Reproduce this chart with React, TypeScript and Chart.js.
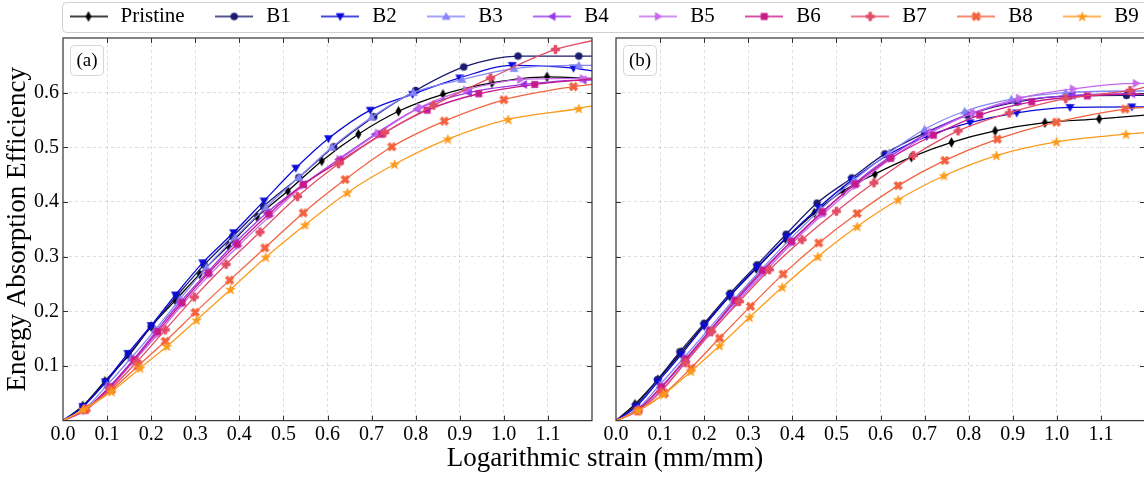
import React, { useEffect, useRef } from 'react';
import { Chart, registerables } from 'chart.js';

Chart.register(...registerables);

const FONT = 'Liberation Serif';

const SERIES_NAMES = ['Pristine', 'B1', 'B2', 'B3', 'B4', 'B5', 'B6', 'B7', 'B8', 'B9'];
const SERIES_COLORS = ['#000000', '#1b1b6f', '#0b0bd8', '#8585f7', '#9936e6', '#c668ea', '#c8198a', '#e24c64', '#f3623e', '#fc9a1c'];
const SERIES_MARKERS = ['thinDiamond', 'circle', 'triDown', 'triUp', 'triLeft', 'triRight', 'square', 'plus', 'cross', 'star'];

const X_TITLE = 'Logarithmic strain (mm/mm)';
const Y_TITLE = 'Energy Absorption Efficiency';
const PANEL_LABELS = ['(a)', '(b)'];
const X_MIN = 0, X_MAX = 1.2, X_STEP = 0.1, X_LAST_LABEL = 1.1;
const Y_MIN = 0, Y_MAX = 0.7, Y_STEP = 0.1, Y_FIRST_LABEL = 0.1, Y_LAST_LABEL = 0.6;

// ---------- Panel (a) ----------
const A_PRISTINE = [[0, 0], [0.045, 0.027], [0.095, 0.072], [0.15, 0.12], [0.2, 0.172], [0.255, 0.22], [0.31, 0.268], [0.375, 0.32], [0.44, 0.373], [0.51, 0.42], [0.587, 0.475], [0.67, 0.524], [0.761, 0.566], [0.862, 0.597], [0.973, 0.618], [1.098, 0.629], [1.2, 0.626]];
const A_B1 = [[0, 0], [0.045, 0.025], [0.097, 0.07], [0.148, 0.12], [0.2, 0.172], [0.258, 0.228], [0.32, 0.285], [0.385, 0.337], [0.455, 0.392], [0.535, 0.445], [0.614, 0.501], [0.705, 0.556], [0.8, 0.604], [0.909, 0.647], [1.032, 0.667], [1.17, 0.667], [1.2, 0.667]];
const A_B2 = [[0, 0], [0.045, 0.026], [0.096, 0.071], [0.147, 0.123], [0.2, 0.174], [0.255, 0.23], [0.317, 0.289], [0.387, 0.344], [0.456, 0.402], [0.528, 0.462], [0.602, 0.516], [0.697, 0.568], [0.793, 0.597], [0.9, 0.627], [1.019, 0.65], [1.158, 0.645], [1.2, 0.64]];
const A_B3 = [[0, 0], [0.05, 0.022], [0.1, 0.065], [0.155, 0.115], [0.21, 0.167], [0.265, 0.222], [0.325, 0.28], [0.39, 0.335], [0.46, 0.39], [0.535, 0.445], [0.61, 0.5], [0.7, 0.555], [0.795, 0.6], [0.905, 0.624], [1.023, 0.644], [1.17, 0.65], [1.2, 0.65]];
const A_B4 = [[0, 0], [0.05, 0.02], [0.103, 0.06], [0.158, 0.11], [0.21, 0.162], [0.265, 0.216], [0.326, 0.27], [0.39, 0.325], [0.462, 0.38], [0.545, 0.432], [0.625, 0.478], [0.708, 0.524], [0.803, 0.57], [0.92, 0.6], [1.045, 0.615], [1.18, 0.623], [1.2, 0.623]];
const A_B5 = [[0, 0], [0.05, 0.018], [0.105, 0.058], [0.16, 0.108], [0.215, 0.158], [0.27, 0.212], [0.333, 0.267], [0.398, 0.32], [0.47, 0.375], [0.545, 0.43], [0.628, 0.478], [0.715, 0.526], [0.81, 0.573], [0.915, 0.605], [1.038, 0.624], [1.18, 0.626], [1.2, 0.626]];
const A_B6 = [[0, 0], [0.05, 0.02], [0.107, 0.062], [0.162, 0.112], [0.215, 0.163], [0.27, 0.216], [0.33, 0.27], [0.395, 0.323], [0.467, 0.378], [0.545, 0.432], [0.629, 0.475], [0.723, 0.524], [0.826, 0.568], [0.943, 0.598], [1.07, 0.615], [1.2, 0.625]];
const A_B7 = [[0, 0], [0.05, 0.02], [0.108, 0.058], [0.168, 0.108], [0.232, 0.166], [0.298, 0.226], [0.37, 0.286], [0.447, 0.345], [0.532, 0.41], [0.625, 0.47], [0.73, 0.527], [0.841, 0.577], [0.97, 0.627], [1.117, 0.679], [1.2, 0.695]];
const A_B8 = [[0, 0], [0.053, 0.022], [0.11, 0.056], [0.17, 0.1], [0.232, 0.145], [0.3, 0.198], [0.378, 0.257], [0.458, 0.316], [0.545, 0.38], [0.64, 0.441], [0.746, 0.501], [0.865, 0.548], [1.0, 0.587], [1.158, 0.611], [1.2, 0.615]];
const A_B9 = [[0, 0], [0.046, 0.02], [0.11, 0.053], [0.175, 0.096], [0.236, 0.136], [0.303, 0.184], [0.38, 0.24], [0.46, 0.299], [0.549, 0.358], [0.645, 0.417], [0.752, 0.469], [0.873, 0.515], [1.01, 0.551], [1.17, 0.571], [1.2, 0.576]];

// ---------- Panel (b) ----------
const B_PRISTINE = [[0, 0], [0.043, 0.03], [0.095, 0.075], [0.148, 0.125], [0.2, 0.175], [0.258, 0.228], [0.318, 0.278], [0.385, 0.332], [0.45, 0.38], [0.515, 0.42], [0.587, 0.451], [0.67, 0.482], [0.761, 0.509], [0.86, 0.53], [0.973, 0.545], [1.096, 0.552], [1.2, 0.559]];
const B_B1 = [[0, 0], [0.045, 0.028], [0.094, 0.075], [0.145, 0.126], [0.2, 0.178], [0.259, 0.233], [0.32, 0.285], [0.386, 0.341], [0.456, 0.398], [0.535, 0.444], [0.61, 0.488], [0.7, 0.526], [0.797, 0.559], [0.91, 0.583], [1.03, 0.594], [1.158, 0.595], [1.2, 0.595]];
const B_B2 = [[0, 0], [0.045, 0.025], [0.095, 0.071], [0.148, 0.121], [0.2, 0.173], [0.258, 0.228], [0.32, 0.281], [0.388, 0.336], [0.46, 0.39], [0.535, 0.44], [0.615, 0.485], [0.705, 0.52], [0.803, 0.545], [0.909, 0.563], [1.03, 0.573], [1.17, 0.574], [1.2, 0.574]];
const B_B3 = [[0, 0], [0.05, 0.022], [0.1, 0.066], [0.155, 0.116], [0.21, 0.167], [0.268, 0.222], [0.33, 0.277], [0.395, 0.332], [0.465, 0.387], [0.54, 0.44], [0.62, 0.49], [0.7, 0.533], [0.791, 0.566], [0.897, 0.588], [1.02, 0.6], [1.17, 0.603], [1.2, 0.603]];
const B_B4 = [[0, 0], [0.05, 0.02], [0.102, 0.06], [0.157, 0.11], [0.212, 0.162], [0.27, 0.217], [0.332, 0.272], [0.397, 0.327], [0.467, 0.38], [0.54, 0.433], [0.62, 0.482], [0.708, 0.527], [0.805, 0.562], [0.912, 0.585], [1.035, 0.595], [1.17, 0.598], [1.2, 0.598]];
const B_B5 = [[0, 0], [0.05, 0.018], [0.105, 0.058], [0.16, 0.108], [0.215, 0.16], [0.272, 0.214], [0.335, 0.27], [0.4, 0.325], [0.47, 0.378], [0.545, 0.43], [0.625, 0.48], [0.715, 0.527], [0.81, 0.563], [0.915, 0.59], [1.037, 0.607], [1.18, 0.617], [1.2, 0.617]];
const B_B6 = [[0, 0], [0.05, 0.02], [0.103, 0.062], [0.158, 0.113], [0.213, 0.165], [0.27, 0.22], [0.333, 0.275], [0.398, 0.328], [0.468, 0.382], [0.543, 0.433], [0.623, 0.48], [0.72, 0.522], [0.825, 0.559], [0.943, 0.583], [1.069, 0.594], [1.2, 0.598]];
const B_B7 = [[0, 0], [0.05, 0.018], [0.102, 0.053], [0.157, 0.106], [0.217, 0.163], [0.28, 0.218], [0.348, 0.276], [0.422, 0.331], [0.5, 0.383], [0.585, 0.435], [0.675, 0.485], [0.776, 0.53], [0.892, 0.563], [1.02, 0.589], [1.166, 0.604], [1.2, 0.61]];
const B_B8 = [[0, 0], [0.05, 0.018], [0.11, 0.05], [0.17, 0.096], [0.235, 0.151], [0.305, 0.209], [0.379, 0.268], [0.46, 0.325], [0.547, 0.379], [0.64, 0.43], [0.746, 0.476], [0.865, 0.515], [0.999, 0.546], [1.155, 0.57], [1.2, 0.573]];
const B_B9 = [[0, 0], [0.05, 0.018], [0.108, 0.048], [0.17, 0.09], [0.235, 0.137], [0.303, 0.189], [0.377, 0.244], [0.458, 0.3], [0.547, 0.355], [0.64, 0.404], [0.744, 0.448], [0.863, 0.485], [0.999, 0.51], [1.157, 0.524], [1.2, 0.527]];

const PANEL_A = [A_PRISTINE, A_B1, A_B2, A_B3, A_B4, A_B5, A_B6, A_B7, A_B8, A_B9];
const PANEL_B = [B_PRISTINE, B_B1, B_B2, B_B3, B_B4, B_B5, B_B6, B_B7, B_B8, B_B9];

// ---------- marker drawing ----------
function drawShape(ctx: CanvasRenderingContext2D, shape: string, cx: number, cy: number, color: string) {
  ctx.save();
  ctx.fillStyle = color;
  ctx.strokeStyle = color;
  ctx.lineWidth = 0.6;
  ctx.lineJoin = 'miter';
  ctx.beginPath();
  const poly = (pts: number[][]) => {
    pts.forEach(([x, y], i) => (i === 0 ? ctx.moveTo(cx + x, cy + y) : ctx.lineTo(cx + x, cy + y)));
    ctx.closePath();
  };
  const rot = (pts: number[][], deg: number) => {
    const r = (deg * Math.PI) / 180;
    return pts.map(([x, y]) => [x * Math.cos(r) - y * Math.sin(r), x * Math.sin(r) + y * Math.cos(r)]);
  };
  const t = 4;
  const plusPts = (a: number, b: number) => [[-b, -a], [b, -a], [b, -b], [a, -b], [a, b], [b, b], [b, a], [-b, a], [-b, b], [-a, b], [-a, -b], [-b, -b]];
  switch (shape) {
    case 'circle':
      ctx.arc(cx, cy, 3.5, 0, Math.PI * 2);
      break;
    case 'square':
      ctx.rect(cx - 3.2, cy - 3.2, 6.4, 6.4);
      break;
    case 'triUp':
      poly([[0, -t], [t, t * 0.75], [-t, t * 0.75]]);
      break;
    case 'triDown':
      poly([[0, t], [t, -t * 0.75], [-t, -t * 0.75]]);
      break;
    case 'triLeft':
      poly([[-t, 0], [t * 0.75, -t], [t * 0.75, t]]);
      break;
    case 'triRight':
      poly([[t, 0], [-t * 0.75, -t], [-t * 0.75, t]]);
      break;
    case 'thinDiamond':
      poly([[0, -4.8], [2.7, 0], [0, 4.8], [-2.7, 0]]);
      break;
    case 'plus':
      poly(plusPts(4.2, 1.5));
      break;
    case 'cross':
      poly(rot(plusPts(4.6, 1.6), 45));
      break;
    case 'star': {
      const pts: number[][] = [];
      for (let k = 0; k < 10; k++) {
        const r = k % 2 === 0 ? 5 : 2;
        const ang = -Math.PI / 2 + (k * Math.PI) / 5;
        pts.push([r * Math.cos(ang), r * Math.sin(ang) + 0.4]);
      }
      poly(pts);
      break;
    }
  }
  ctx.fill();
  ctx.stroke();
  ctx.restore();
}

function makeMarker(shape: string, color: string): HTMLCanvasElement {
  const c = document.createElement('canvas');
  c.width = 13;
  c.height = 13;
  const ctx = c.getContext('2d')!;
  drawShape(ctx, shape, 6.5, 6.5, color);
  return c;
}

function makeLegendIcon(shape: string, color: string): HTMLCanvasElement {
  const c = document.createElement('canvas');
  c.width = 38;
  c.height = 14;
  const ctx = c.getContext('2d')!;
  ctx.strokeStyle = color;
  ctx.lineWidth = 1.5;
  ctx.beginPath();
  ctx.moveTo(0, 7);
  ctx.lineTo(38, 7);
  ctx.stroke();
  drawShape(ctx, shape, 19, 7, color);
  return c;
}

// ---------- plugins ----------
function panelDecor(label: string) {
  return {
    id: 'panelDecor',
    afterDraw(chart: any) {
      const { ctx, chartArea: a } = chart;
      const xs = chart.scales.x;
      const ys = chart.scales.y;
      ctx.save();
      ctx.strokeStyle = '#333';
      ctx.lineWidth = 1;
      ctx.beginPath();
      xs.ticks.forEach((tk: any) => {
        if (tk.value <= xs.min + 1e-6 || tk.value >= xs.max - 1e-6) return;
        const p = Math.round(xs.getPixelForValue(tk.value)) + 0.5;
        ctx.moveTo(p, a.bottom);
        ctx.lineTo(p, a.bottom - 5);
        ctx.moveTo(p, a.top);
        ctx.lineTo(p, a.top + 5);
      });
      ys.ticks.forEach((tk: any) => {
        if (tk.value <= ys.min + 1e-6 || tk.value >= ys.max - 1e-6) return;
        const p = Math.round(ys.getPixelForValue(tk.value)) + 0.5;
        ctx.moveTo(a.left, p);
        ctx.lineTo(a.left + 5, p);
        ctx.moveTo(a.right, p);
        ctx.lineTo(a.right - 5, p);
      });
      ctx.stroke();
      ctx.lineWidth = 1.25;
      ctx.strokeStyle = '#3a3a3a';
      ctx.strokeRect(a.left, a.top, a.right - a.left, a.bottom - a.top);
      // panel label box
      const bx = a.left + 7, by = a.top + 7, bw = 33, bh = 30;
      ctx.beginPath();
      (ctx as any).roundRect(bx + 0.5, by + 0.5, bw, bh, 4);
      ctx.fillStyle = 'rgba(255,255,255,0.9)';
      ctx.fill();
      ctx.strokeStyle = '#d6d6d6';
      ctx.lineWidth = 1;
      ctx.stroke();
      ctx.fillStyle = '#000';
      ctx.font = `19px "${FONT}"`;
      ctx.textAlign = 'center';
      ctx.textBaseline = 'middle';
      ctx.fillText(label, bx + bw / 2 + 0.5, by + bh / 2 + 1);
      ctx.restore();
    },
  };
}

const legendFrame = {
  id: 'legendFrame',
  afterDraw(chart: any) {
    const hb = chart.legend && chart.legend.legendHitBoxes;
    if (!hb || !hb.length) return;
    const first = hb[0];
    const last = hb[hb.length - 1];
    const { ctx } = chart;
    ctx.save();
    ctx.beginPath();
    ctx.roundRect(first.left - 4.5, first.top - 3.5, last.left + last.width - first.left + 20, 30, 4);
    ctx.strokeStyle = '#d0d0d0';
    ctx.lineWidth = 1;
    ctx.stroke();
    ctx.restore();
  },
};

const GRID_COLOR = 'rgba(0,0,0,0.17)';

function panelConfig(series: number[][][], label: string, showY: boolean, yWidth: number, padRight: number, markers: HTMLCanvasElement[]): any {
  const datasets = series.map((pairs, i) => ({
    label: SERIES_NAMES[i],
    data: pairs.map(([x, y]) => ({ x, y })),
    borderColor: SERIES_COLORS[i],
    backgroundColor: SERIES_COLORS[i],
    borderWidth: 1.3,
    pointStyle: markers[i],
    pointRadius: pairs.map((_, j) => (j === 0 || j === pairs.length - 1 ? 0 : 4)),
    pointHoverRadius: 0,
    pointHitRadius: 0,
    cubicInterpolationMode: 'monotone',
    fill: false,
    order: 10 - i,
  }));
  const edgeGrid = (min: number, max: number) => (c: any) =>
    c.tick && (c.tick.value <= min + 1e-6 || c.tick.value >= max - 1e-6) ? 'rgba(0,0,0,0)' : GRID_COLOR;
  return {
    type: 'line',
    data: { datasets },
    options: {
      responsive: false,
      animation: false,
      devicePixelRatio: 1,
      events: [],
      layout: { padding: { left: 0, right: padRight, top: 38, bottom: 0 } },
      plugins: { legend: { display: false }, tooltip: { enabled: false } },
      scales: {
        x: {
          type: 'linear',
          min: X_MIN,
          max: X_MAX,
          afterFit: (s: any) => {
            s.height = 56.4;
          },
          ticks: {
            stepSize: X_STEP,
            autoSkip: false,
            maxRotation: 0,
            padding: 2,
            color: '#000',
            font: { family: FONT, size: 20 },
            callback: (v: any) => (Number(v) > X_LAST_LABEL + 0.05 ? '' : Number(v).toFixed(1)),
          },
          grid: { color: edgeGrid(X_MIN, X_MAX), lineWidth: 0.8, drawTicks: false },
          border: { display: false, dash: [3, 3] },
        },
        y: {
          type: 'linear',
          min: Y_MIN,
          max: Y_MAX,
          afterFit: (s: any) => {
            s.width = yWidth;
          },
          ticks: {
            display: showY,
            stepSize: Y_STEP,
            padding: 4,
            color: '#000',
            font: { family: FONT, size: 20 },
            callback: (v: any) => (Number(v) < Y_FIRST_LABEL - 0.05 || Number(v) > Y_LAST_LABEL + 0.05 ? '' : Number(v).toFixed(1)),
          },
          grid: { color: edgeGrid(Y_MIN, Y_MAX), lineWidth: 0.8, drawTicks: false },
          border: { display: false, dash: [3, 3] },
          title: {
            display: showY,
            text: Y_TITLE,
            color: '#000',
            font: { family: FONT, size: 27 },
            padding: { top: 2, bottom: 0 },
          },
        },
      },
    },
    plugins: [panelDecor(label)],
  };
}

function frameConfig(icons: HTMLCanvasElement[]): any {
  return {
    type: 'line',
    data: {
      datasets: SERIES_NAMES.map((name, i) => ({ label: name, data: [], borderColor: SERIES_COLORS[i], pointStyle: icons[i] })),
    },
    options: {
      responsive: false,
      animation: false,
      devicePixelRatio: 1,
      events: [],
      layout: { padding: { left: 39, right: 9, top: 0, bottom: 0 } },
      plugins: {
        tooltip: { enabled: false },
        legend: {
          display: true,
          position: 'top',
          align: 'start',
          labels: {
            usePointStyle: true,
            pointStyleWidth: 43,
            padding: 28,
            color: '#000',
            font: { family: FONT, size: 21 },
            generateLabels: (chart: any) =>
              chart.data.datasets.map((ds: any, i: number) => ({
                text: ds.label,
                pointStyle: icons[i],
                fillStyle: SERIES_COLORS[i],
                strokeStyle: SERIES_COLORS[i],
                lineWidth: 0,
                hidden: false,
                datasetIndex: i,
                fontColor: '#000',
              })),
          },
        },
      },
      scales: {
        x: {
          type: 'linear',
          display: true,
          ticks: { display: false },
          grid: { display: false },
          border: { display: false },
          title: {
            display: true,
            text: X_TITLE,
            color: '#000',
            font: { family: FONT, size: 27 },
            padding: { top: 0, bottom: 2 },
          },
        },
        y: { display: false },
      },
    },
    plugins: [legendFrame],
  };
}

export default function App() {
  const refF = useRef<HTMLCanvasElement>(null);
  const refA = useRef<HTMLCanvasElement>(null);
  const refB = useRef<HTMLCanvasElement>(null);

  useEffect(() => {
    const markers = SERIES_MARKERS.map((m, i) => makeMarker(m, SERIES_COLORS[i]));
    const icons = SERIES_MARKERS.map((m, i) => makeLegendIcon(m, SERIES_COLORS[i]));
    const charts = [
      new Chart(refF.current!, frameConfig(icons)),
      new Chart(refA.current!, panelConfig(PANEL_A, PANEL_LABELS[0], true, 63, 12, markers)),
      new Chart(refB.current!, panelConfig(PANEL_B, PANEL_LABELS[1], false, 16, 15, markers)),
    ];
    return () => charts.forEach((c) => c.destroy());
  }, []);

  return (
    <div style={{ position: 'fixed', left: 0, top: 0, width: 1144, height: 477, overflow: 'hidden', background: '#fff' }}>
      <canvas ref={refF} width={1180} height={499} style={{ position: 'absolute', left: 0, top: -22, width: 1180, height: 499 }} />
      <canvas ref={refA} width={604} height={477} style={{ position: 'absolute', left: 0, top: 0, width: 604, height: 477 }} />
      <canvas ref={refB} width={560} height={477} style={{ position: 'absolute', left: 600, top: 0, width: 560, height: 477 }} />
    </div>
  );
}
